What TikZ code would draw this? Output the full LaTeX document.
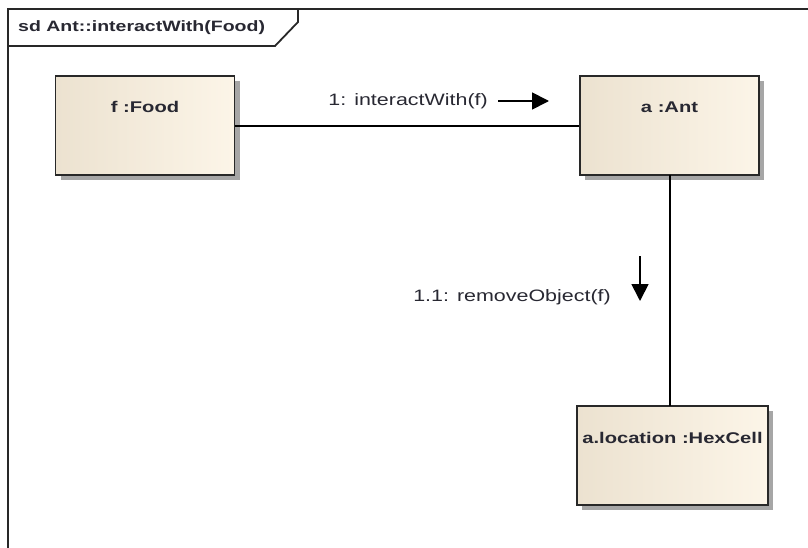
\documentclass[tikz,border=0pt]{standalone}
\usepackage{fontspec}
\setmainfont{Liberation Sans}[FakeStretch=1.3]
\usetikzlibrary{arrows.meta,shadows}
\definecolor{boxleft}{RGB}{236,226,208}
\definecolor{boxright}{RGB}{252,245,232}
\definecolor{edge}{RGB}{40,40,40}
\definecolor{ink}{RGB}{40,40,50}
\tikzset{
  objbox/.style={draw=edge, line width=1.8pt, left color=boxleft, right color=boxright,
    drop shadow={shadow xshift=5pt, shadow yshift=-5pt, fill=black!35, opacity=1},
    minimum width=#1, minimum height=99pt, inner sep=0pt},
  objname/.style={font=\fontsize{15.5}{18}\selectfont\bfseries, text=ink, inner sep=0pt},
  msg/.style={font=\fontsize{16.5}{19}\selectfont, text=ink, inner sep=0pt},
  link/.style={line width=1.4pt, draw=black},
  msgarrow/.style={line width=1.8pt, -{Triangle[length=17pt,width=17pt]}},
  frameline/.style={line width=1.8pt, draw=edge}
}
\begin{document}
\begin{tikzpicture}[x=1pt,y=-1pt]
  \useasboundingbox (0,0) rectangle (808,548);
  \fill[white] (0,0) rectangle (808,548);

  % diagram frame with its name tab
  \draw[frameline] (8,560) -- (8,9) -- (810,9);
  \draw[frameline] (8,46) -- (275,46) -- (298,22) -- (298,9);
  \node[objname, anchor=west, font=\fontsize{15}{18}\selectfont\bfseries] (title) at (18,28) {sd Ant::interactWith(Food)};

  % objects
  \node[objbox=179pt] (food) at (145,125.5) {};
  \node[objname] (foodname) at (food.center |- 0,107) {f :Food};
  \node[objbox=179pt] (ant) at (669.5,125.5) {};
  \node[objname] (antname) at (ant.center |- 0,107) {a :Ant};
  \node[objbox=191pt] (cell) at (672.5,455.5) {};
  \node[objname] (cellname) at (cell.center |- 0,438) {a.location :HexCell};

  % links
  \draw[link] (food.east |- 0,126) -- (ant.west |- 0,126);
  \coordinate (antbot) at (670,175);
  \coordinate (celltop) at (670,406);
  \draw[link] (antbot) -- (celltop);

  % messages
  \node[msg, anchor=east] (m1) at (488,101) {1: interactWith(f)};
  \coordinate (m1s) at (498,101);
  \coordinate (m1e) at (549,101);
  \draw[msgarrow] (m1s) -- (m1e);

  \node[msg, anchor=east] (m2) at (611,297) {1.1: removeObject(f)};
  \coordinate (m2s) at (640,256);
  \coordinate (m2e) at (640,301);
  \draw[msgarrow] (m2s) -- (m2e);
\end{tikzpicture}
\end{document}
